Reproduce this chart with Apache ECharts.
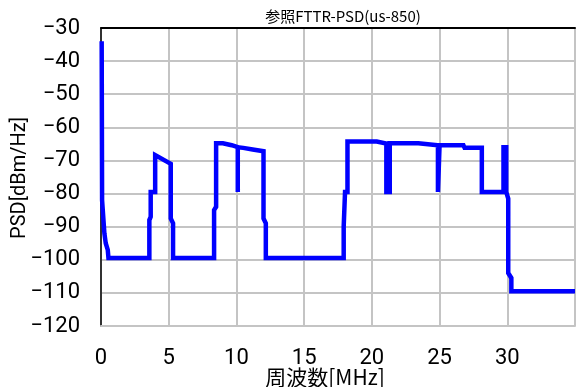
<!DOCTYPE html>
<html>
<head>
<meta charset="utf-8">
<script src="https://cdn.jsdelivr.net/npm/echarts@6/dist/echarts.min.js"></script>
<style>
  html, body { margin: 0; padding: 0; background: #fff; }
  #chart { width: 580px; height: 387px; }
</style>
</head>
<body>
<div id="chart"></div>
<script>
// Upstream PSD mask (us-850): breakpoints in MHz and the level at each breakpoint
const freqMHz = [
  0.05, 0.08, 0.25, 0.35, 0.5, 0.55,
  3.57, 3.57, 3.67, 3.67, 4.0, 4.0, 5.15, 5.15, 5.32, 5.32,
  8.35, 8.35, 8.5, 8.5, 9.0, 9.0, 9.65, 9.65, 10.1, 10.1, 10.1, 10.5, 11.2, 11.2, 12.0, 12.0, 12.17, 12.17,
  17.92, 17.92, 18.02, 18.02, 18.2, 18.2, 20.36, 20.45, 21.07, 21.07, 21.32, 21.32, 23.43, 23.5,
  24.88, 24.88, 25.0, 25.0, 26.76, 26.85, 28.12, 28.12, 29.72, 29.72, 29.92, 29.92, 30.07, 30.07, 30.3, 30.3, 35
];
const psdDbmHz = [
  -34, -82, -92, -95, -97, -99.5,
  -99.5, -88, -87, -79.5, -79.5, -68.4, -71, -87.5, -89, -99.5,
  -99.5, -85, -84, -64.8, -64.8, -65.4, -65.4, -66, -66, -79.5, -66, -66.2, -66.7, -67.2, -67.2, -87.5, -89, -99.5,
  -99.5, -90, -89.5, -79.5, -79.5, -64.3, -64.3, -64.9, -64.9, -79.5, -79.5, -64.8, -64.8, -65.4,
  -65.4, -79.5, -79.5, -65.4, -65.4, -66.2, -66.2, -79.5, -79.5, -66, -66, -79.5, -81.5, -104, -105.5, -109.5, -109.5
];

// Axis ranges and tick steps
const xRange = [0, 35];
const xStep = 5;
const yRange = [-120, -30];
const yStep = 10;

const titleText = '参照FTTR-PSD(us-850)';
const xName = '周波数[MHz]';
const yName = 'PSD[dBm/Hz]';

const points = freqMHz.map((f, i) => [f, psdDbmHz[i]]);

const chart = echarts.init(document.getElementById('chart'), null, { renderer: 'canvas' });

const gridColor = '#c4c4c4';
const tickFont = 'Roboto, "Liberation Sans", sans-serif';
const cjkFont = '"Noto Sans CJK JP", "Noto Sans", sans-serif';

chart.setOption({
  animation: false,
  backgroundColor: '#ffffff',
  title: {
    text: titleText,
    left: 338,
    top: 4,
    textAlign: 'center',
    textStyle: { fontFamily: cjkFont, fontSize: 15, fontWeight: 'normal', color: '#000' }
  },
  grid: { left: 101, right: 5, top: 28, bottom: 61, containLabel: false },
  xAxis: [
    {
      type: 'value',
      min: xRange[0], max: xRange[1], interval: xStep,
      axisLine: { show: true, onZero: false, lineStyle: { color: gridColor, width: 2 } },
      axisTick: { show: false },
      axisLabel: { margin: 21, fontFamily: tickFont, fontSize: 22, color: '#000', showMaxLabel: false },
      splitLine: { show: true, lineStyle: { color: gridColor, width: 2 } }
    },
    {
      type: 'value', position: 'top',
      min: xRange[0], max: xRange[1],
      axisLine: { show: true, onZero: false, lineStyle: { color: '#000', width: 2 } },
      axisTick: { show: false }, axisLabel: { show: false }, splitLine: { show: false }
    }
  ],
  yAxis: {
    type: 'value',
    min: yRange[0], max: yRange[1], interval: yStep,
    axisLine: { show: true, onZero: false, lineStyle: { color: '#000', width: 1.5 } },
    axisTick: { show: false },
    axisLabel: {
      margin: 21, fontFamily: tickFont, fontSize: 22, color: '#000',
      formatter: v => String(v).replace('-', '\u2212')
    },
    splitLine: { show: true, lineStyle: { color: gridColor, width: 2 } }
  },
  graphic: [
    {
      type: 'text', x: 325, y: 377,
      style: { text: xName, fontFamily: cjkFont, fontSize: 21, fill: '#000', align: 'center', verticalAlign: 'middle' }
    },
    {
      type: 'text', x: 20, y: 178, rotation: Math.PI / 2,
      style: { text: yName, fontFamily: tickFont, fontSize: 20, fill: '#000', align: 'center', verticalAlign: 'middle' }
    }
  ],
  series: [{
    type: 'line',
    data: points,
    showSymbol: false,
    symbol: 'none',
    clip: true,
    lineStyle: { color: '#0000ff', width: 4.5, join: 'miter' }
  }]
});
</script>
</body>
</html>
